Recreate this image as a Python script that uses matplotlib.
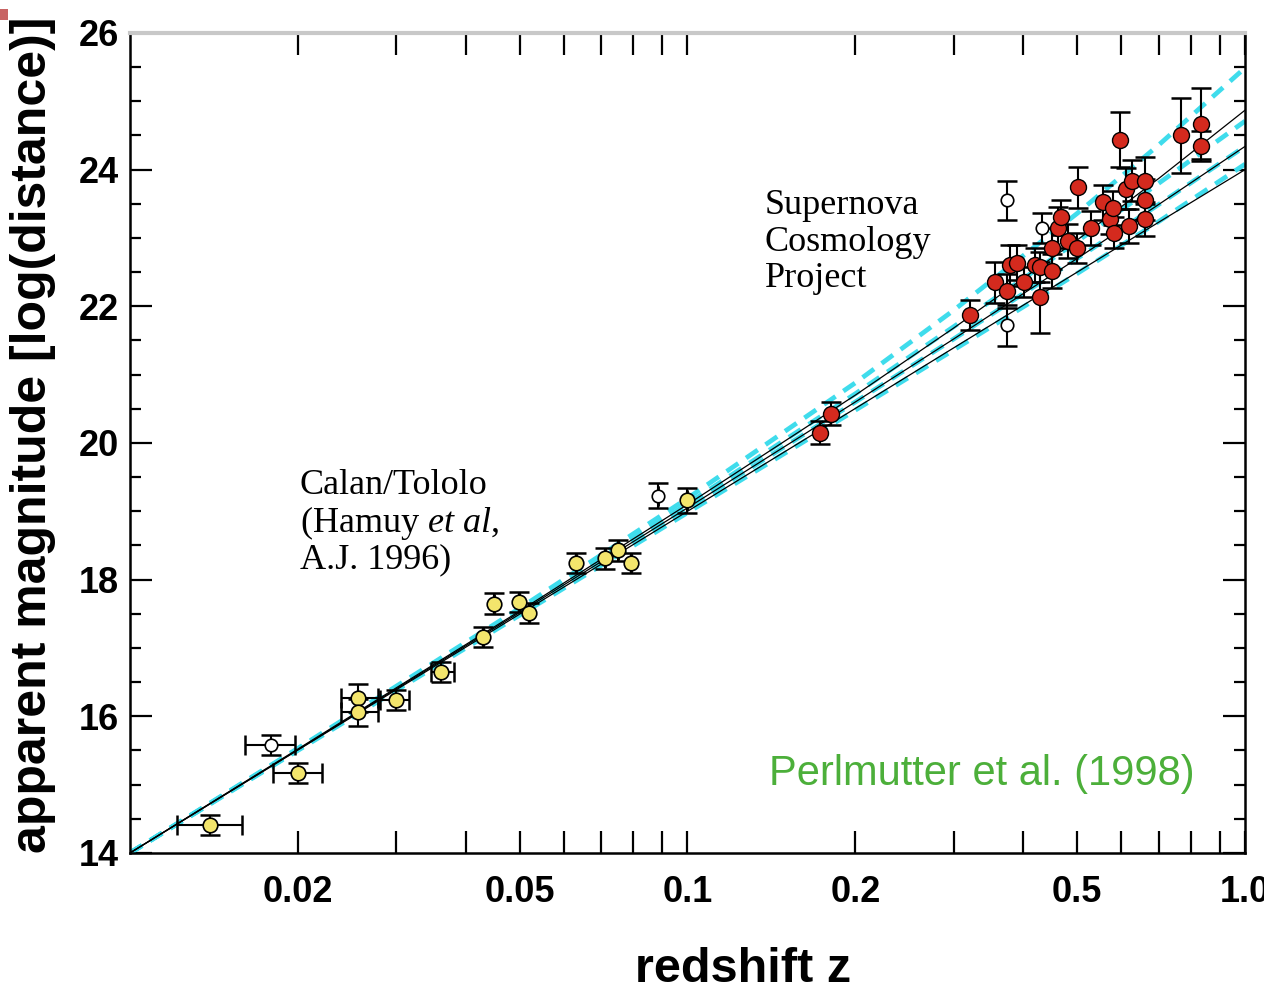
import numpy as np
import matplotlib
matplotlib.use("Agg")
import matplotlib.pyplot as plt
from matplotlib.patches import Rectangle
from matplotlib.ticker import FixedLocator, NullFormatter

# -------------------------------
# Data: Hubble diagram of type Ia supernovae
# -------------------------------
# Model curves (apparent magnitude vs redshift) for several (Omega_M, Omega_Lambda)
z_model = [0.01, 0.02, 0.05, 0.1, 0.2, 0.3, 0.5, 0.7, 1.0]
m_lambda_only = [14.00, 15.53, 17.58, 19.19, 20.88, 21.94, 23.36, 24.36, 25.49]   # (0, 1) flat
m_empty = [14.00, 15.52, 17.54, 19.10, 20.70, 21.68, 22.97, 23.87, 24.87]         # (0, 0)
m_half = [14.00, 15.52, 17.55, 19.11, 20.72, 21.70, 22.95, 23.80, 24.71]          # (0.5, 0.5) flat
m_eds = [14.00, 15.51, 17.52, 19.05, 20.60, 21.52, 22.70, 23.49, 24.34]           # (1, 0)
m_closed = [14.00, 15.505, 17.495, 19.00, 20.505, 21.39, 22.50, 23.23, 24.00]     # (2, 0)
m_neg_lambda = [14.00, 15.50, 17.48, 18.98, 20.48, 21.36, 22.48, 23.24, 24.08]    # (1.5, -0.5) flat

# Calan/Tololo low-redshift sample
ct_z = [0.0139, 0.0200, 0.0257, 0.0257, 0.0300, 0.0361, 0.0430, 0.0450, 0.0499,
        0.0520, 0.0632, 0.0710, 0.0752, 0.0793, 0.1000]
ct_m = [14.41, 15.17, 16.27, 16.06, 16.24, 16.65, 17.16, 17.65, 17.67,
        17.51, 18.24, 18.31, 18.43, 18.24, 19.16]
ct_zlo = [0.01215, 0.01808, 0.02386, 0.02386, 0.02813, 0.0346, 0.0430, 0.0450, 0.0499,
          0.0520, 0.0632, 0.0710, 0.0752, 0.0793, 0.1000]
ct_zhi = [0.01590, 0.02214, 0.0278, 0.0278, 0.0316, 0.0381, 0.0430, 0.0450, 0.0499,
          0.0520, 0.0632, 0.0710, 0.0752, 0.0793, 0.1000]
ct_merr = [0.15, 0.15, 0.20, 0.20, 0.15, 0.15, 0.15, 0.15, 0.15,
           0.15, 0.15, 0.15, 0.15, 0.15, 0.18]

# Calan/Tololo objects excluded from the fit (open symbols)
ct_open_z = [0.0179, 0.0887]
ct_open_m = [15.58, 19.23]
ct_open_zlo = [0.0161, 0.0887]
ct_open_zhi = [0.0198, 0.0887]
ct_open_merr = [0.15, 0.18]

# Supernova Cosmology Project high-redshift sample
scp_z = [0.1727, 0.1808, 0.3215, 0.3566, 0.3748, 0.3796, 0.3906, 0.4020, 0.4193,
         0.4294, 0.4294, 0.4515, 0.4515, 0.4610, 0.4669, 0.4806, 0.5000, 0.5007,
         0.5284, 0.5554, 0.5718, 0.5800, 0.5817, 0.5957, 0.6109, 0.6196, 0.6274,
         0.6607, 0.6607, 0.6607, 0.7670, 0.8335, 0.8335]
scp_m = [20.15, 20.43, 21.87, 22.35, 22.23, 22.60, 22.64, 22.35, 22.60,
         22.57, 22.13, 22.52, 22.85, 23.15, 23.30, 22.96, 22.85, 23.74,
         23.15, 23.52, 23.28, 23.44, 23.08, 24.44, 23.72, 23.18, 23.84,
         23.84, 23.56, 23.28, 24.50, 24.67, 24.35]
scp_merr = [0.17, 0.17, 0.22, 0.30, 0.25, 0.30, 0.25, 0.22, 0.25,
            0.22, 0.52, 0.25, 0.30, 0.30, 0.25, 0.25, 0.22, 0.30,
            0.25, 0.25, 0.22, 0.25, 0.22, 0.40, 0.30, 0.25, 0.30,
            0.35, 0.30, 0.25, 0.55, 0.52, 0.22]

# SCP objects excluded from the fit (open symbols)
scp_open_z = [0.3748, 0.3748, 0.4331]
scp_open_m = [23.55, 21.72, 23.14]
scp_open_merr = [0.28, 0.30, 0.22]

# -------------------------------
# Plot setup
# -------------------------------
plt.rcParams["mathtext.fontset"] = "custom"
plt.rcParams["mathtext.rm"] = "Liberation Serif"
plt.rcParams["mathtext.it"] = "Liberation Serif:italic"

fig = plt.figure(figsize=(12.64, 9.96), dpi=100)
ax = fig.add_axes([0.1028, 0.1436, 0.8822, 0.8233])

cyan = "#3fdcec"

# model curves: cyan dashed (flat models), black solid (Lambda = 0 models)
for m_curve in [m_lambda_only, m_half, m_eds, m_neg_lambda]:
    ax.plot(z_model, m_curve, color=cyan, linewidth=3.4, linestyle=(0, (3, 2)), zorder=2)
for m_curve in [m_empty, m_eds, m_closed]:
    ax.plot(z_model, m_curve, color="black", linewidth=0.9, zorder=3)

# error bars
err_kw = dict(fmt="none", ecolor="black", elinewidth=1.5, capsize=7, capthick=1.8, zorder=4)

ct_z = np.array(ct_z)
ax.errorbar(ct_z, ct_m, xerr=[ct_z - np.array(ct_zlo), np.array(ct_zhi) - ct_z],
            yerr=ct_merr, **err_kw)
ct_open_z = np.array(ct_open_z)
ax.errorbar(ct_open_z, ct_open_m,
            xerr=[ct_open_z - np.array(ct_open_zlo), np.array(ct_open_zhi) - ct_open_z],
            yerr=ct_open_merr, **err_kw)
ax.errorbar(scp_z, scp_m, yerr=scp_merr, **err_kw)
ax.errorbar(scp_open_z, scp_open_m, yerr=scp_open_merr, **err_kw)

# markers
ax.plot(ct_z, ct_m, "o", markersize=10.5, markerfacecolor="#f3e56c",
        markeredgecolor="black", markeredgewidth=1.2, zorder=5)
ax.plot(ct_open_z, ct_open_m, "o", markersize=9, markerfacecolor="white",
        markeredgecolor="black", markeredgewidth=1.2, zorder=5)
ax.plot(scp_z, scp_m, "o", markersize=11.5, markerfacecolor="#d42a1e",
        markeredgecolor="black", markeredgewidth=1.0, zorder=5)
ax.plot(scp_open_z, scp_open_m, "o", markersize=9, markerfacecolor="white",
        markeredgecolor="black", markeredgewidth=1.2, zorder=5)

# -------------------------------
# Axes, ticks, labels
# -------------------------------
ax.set_xscale("log")
ax.set_xlim(0.01, 1.0)
ax.set_ylim(14, 26)

major_x = [0.02, 0.05, 0.1, 0.2, 0.5, 1.0]
minor_x = [0.03, 0.04, 0.06, 0.07, 0.08, 0.09, 0.3, 0.4, 0.6, 0.7, 0.8, 0.9]
ax.xaxis.set_major_locator(FixedLocator(major_x))
ax.xaxis.set_minor_locator(FixedLocator(minor_x))
ax.set_xticklabels(["0.02", "0.05", "0.1", "0.2", "0.5", "1.0"])
ax.xaxis.set_minor_formatter(NullFormatter())
ax.set_yticks([14, 16, 18, 20, 22, 24, 26])
ax.yaxis.set_minor_locator(FixedLocator(np.arange(14, 26.01, 0.5)))

ax.tick_params(axis="both", which="both", direction="in", top=True, right=True,
               colors="black", labelsize=26, width=1.6)
ax.tick_params(axis="x", which="both", length=16, pad=16)
ax.tick_params(axis="y", which="major", length=16, pad=8)
ax.tick_params(axis="y", which="minor", length=8)
for lab in ax.get_xticklabels() + ax.get_yticklabels():
    lab.set_fontfamily("Liberation Sans")
    lab.set_fontweight("bold")

for side in ["left", "right", "bottom"]:
    ax.spines[side].set_linewidth(1.8)
ax.spines["top"].set_linewidth(3)
ax.spines["top"].set_color("#c8c8c8")

ax.set_xlabel("redshift z", fontsize=35, family="Liberation Sans", weight="bold")
ax.xaxis.set_label_coords(0.55, -0.115)
ax.set_ylabel("apparent magnitude [log(distance)]", fontsize=36,
              family="Liberation Sans", weight="bold")
ax.yaxis.set_label_coords(-0.066, 0.51)

# annotations
serif = "Liberation Serif"
ax.text(0.1525, 0.468, "Calan/Tololo\n(Hamuy $\\mathit{et\\ al}$,\nA.J. 1996)",
        transform=ax.transAxes, fontsize=26, family=serif, va="top",
        linespacing=1.05)
ax.text(0.5695, 0.81, "Supernova\nCosmology\nProject", transform=ax.transAxes,
        fontsize=26, family=serif, va="top", linespacing=1.15)
ax.text(0.955, 0.096, "Perlmutter et al. (1998)", transform=ax.transAxes,
        fontsize=30, family="Liberation Sans", color="#4caf3a", ha="right",
        va="center")

# small marker in the corner
fig.patches.append(Rectangle((0.0, 0.98), 0.0065, 0.011, transform=fig.transFigure,
                             facecolor="#c86464", edgecolor="none"))

fig.savefig("out.png", dpi=100)
